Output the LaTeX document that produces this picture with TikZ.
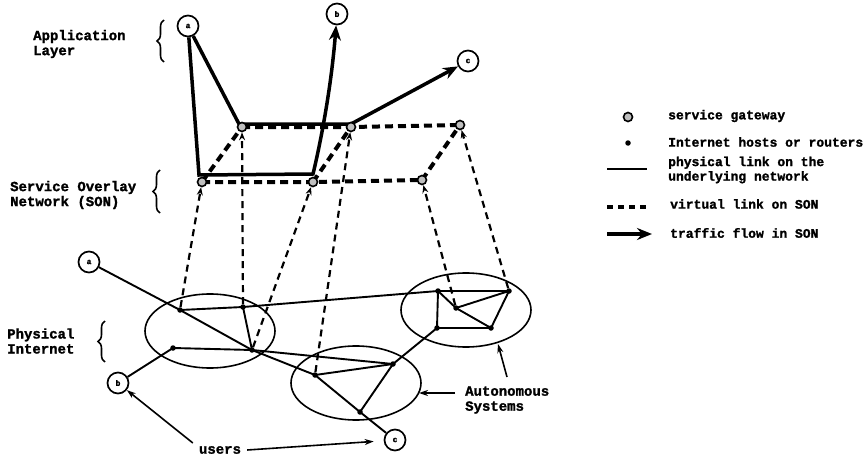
\documentclass[tikz,border=0pt]{standalone}
\usepackage{fontspec}
\newfontfamily\cour{Liberation Mono}[BoldFeatures={FakeBold=1.5}]
\usetikzlibrary{arrows.meta,decorations.pathreplacing,shapes.geometric}
\pgfdeclarelayer{bg}
\pgfsetlayers{bg,main}
\begin{document}
\begin{tikzpicture}[x=1pt,y=-1pt,
  user/.style={circle,draw,fill=white,line width=1.7pt,minimum size=21pt,inner sep=0pt,font=\cour\bfseries\fontsize{8}{8}\selectfont},
  gw/.style={circle,draw,line width=1.6pt,fill=gray!50,minimum size=9pt,inner sep=0pt},
  host/.style={circle,fill,minimum size=5.5pt,inner sep=0pt},
  flow/.style={line width=3.5pt,-{Stealth[length=15pt,width=12pt]}},
  vlink/.style={line width=4pt,dash pattern=on 8pt off 5pt},
  proj/.style={line width=2.2pt,dash pattern=on 7pt off 5pt,-{Stealth[length=8pt,width=6pt]}},
  phys/.style={line width=1.9pt},
  asys/.style={draw,ellipse,line width=1.6pt,minimum width=130pt,minimum height=74pt},
  arr/.style={line width=1.6pt,-{Stealth[length=9pt,width=6pt]}},
  brc/.style={decorate,decoration={brace,amplitude=7pt},line width=1.6pt},
  lbl/.style={font=\cour\bfseries\fontsize{14}{15}\selectfont,align=left,inner sep=0pt},
  leg/.style={font=\cour\bfseries\fontsize{13}{14.5}\selectfont,align=left,anchor=west,inner sep=0pt},
]
\begin{pgfonlayer}{bg}
\fill[white] (0,0) rectangle (865,460);
\end{pgfonlayer}
\useasboundingbox (0,0) rectangle (865,460);

% ---------- application layer ----------
\node[user] (aa) at (188,26) {a};
\node[user] (ab) at (337,14) {b};
\node[user] (ac) at (468,61) {c};

% ---------- service overlay network ----------
\node[gw] (U1) at (242,127) {};
\node[gw] (U2) at (351,127) {};
\node[gw] (U3) at (460,125) {};
\node[gw] (L1) at (202,182) {};
\node[gw] (L2) at (313,182) {};
\node[gw] (L3) at (422,180) {};

% ---------- physical internet ----------
\node[asys] (E1) at (210,331) {};
\node[asys] (E2) at (356,383) {};
\node[asys] (E3) at (466,310) {};

\node[host] (P1) at (180,310) {};
\node[host] (P2) at (243,307) {};
\node[host] (P3) at (173,348) {};
\node[host] (P4) at (252,350) {};
\node[host] (Q1) at (315,375) {};
\node[host] (Q2) at (393,364) {};
\node[host] (Q3) at (360,412) {};
\node[host] (R1) at (438,291) {};
\node[host] (R2) at (509,291) {};
\node[host] (R3) at (437,328) {};
\node[host] (R4) at (491,328) {};
\node[host] (R5) at (456,308) {};

\node[user] (pa) at (89,262) {a};
\node[user] (pb) at (118,383) {b};
\node[user] (pc) at (395,440) {c};

\begin{pgfonlayer}{bg}
  % virtual links
  \draw[vlink] (U1.center) -- (U2.center) -- (U3.center);
  \draw[vlink] (L1.center) -- (L2.center) -- (L3.center);
  \draw[vlink] (L1.center) -- (U1.center);
  \draw[vlink] (L2.center) -- (U2.center);
  \draw[vlink] (L3.center) -- (U3.center);
  % traffic flows
  \draw[flow] (aa) -- ([shift={(-3,-7)}]L1.center) -- ([shift={(0,-8)}]L2.center)
        .. controls (320,145) and (331,90) .. (ab);
  \draw[flow] (aa) -- ([shift={(-3,-3)}]U1.center) -- ([shift={(0,-3)}]U2.center) -- (ac);
  % physical links
  \draw[phys] (pa) -- (P1.center) -- (P4.center) -- (Q1.center) -- (Q3.center) -- (pc);
  \draw[phys] (P1.center) -- (P2.center) -- (R1.center) -- (R2.center);
  \draw[phys] (P2.center) -- (P4.center);
  \draw[phys] (pb) -- (P3.center) -- (P4.center) -- (Q2.center);
  \draw[phys] (Q1.center) -- (Q2.center) -- (Q3.center);
  \draw[phys] (Q2.center) -- (R3.center);
  \draw[phys] (R1.center) -- (R3.center) -- (R4.center) -- (R2.center) -- (R5.center) -- (R1.center);
  \draw[phys] (R5.center) -- (R4.center);
  % projections
  \draw[proj] (P1) -- (L1);
  \draw[proj] (P2) -- (U1);
  \draw[proj] (P4) -- (L2);
  \draw[proj] (Q1) -- (U2);
  \draw[proj] (R5) -- (L3);
  \draw[proj] (R2) -- (U3);
\end{pgfonlayer}

% ---------- left labels ----------
\node[lbl,anchor=west] (tapp) at (33,44) {Application\\Layer};
\draw[brc] (164,62) -- (164,20);
\node[lbl,anchor=west] (tson) at (10,195) {Service Overlay\\Network (SON)};
\draw[brc] (160,213) -- (160,170);
\node[lbl,anchor=west] (tphy) at (7,341) {Physical\\Internet};
\draw[brc] (105,362) -- (105,321);

% ---------- users / autonomous systems ----------
\node[lbl] (users) at (220,450) {users};
\draw[arr] ([shift={(-6,-3)}]users.north west) -- (pb);
\draw[arr,shorten >=10pt] ([xshift=6pt]users.east) -- (pc);

\node[lbl,anchor=west] (tas) at (465,400) {Autonomous\\Systems};
\coordinate (as1) at (455,393);
\coordinate (e2p) at (419,393);
\coordinate (as2) at (507,377);
\coordinate (e3p) at (498,344);
\draw[arr] (as1) -- (e2p);
\draw[arr] (as2) -- (e3p);

% ---------- legend ----------
\node[gw] (lg1) at (628,117) {};
\node[leg] (lt1) at (668,116) {service gateway};
\node[host] (lg2) at (628,143) {};
\node[leg] (lt2) at (668,142) {Internet hosts or routers};
\coordinate (lp1) at (607,169);
\coordinate (lp2) at (647,169);
\draw[phys] (lp1) -- (lp2);
\node[leg] (lt3) at (668,170) {physical link on the\\underlying network};
\coordinate (lv1) at (607,207);
\coordinate (lv2) at (647,207);
\draw[line width=4pt,dash pattern=on 6pt off 5pt] (lv1) -- (lv2);
\node[leg] (lt4) at (670,204) {virtual link on SON};
\coordinate (lf1) at (607,234);
\coordinate (lf2) at (652,234);
\draw[flow] (lf1) -- (lf2);
\node[leg] (lt5) at (670,233) {traffic flow in SON};
\end{tikzpicture}
\end{document}
